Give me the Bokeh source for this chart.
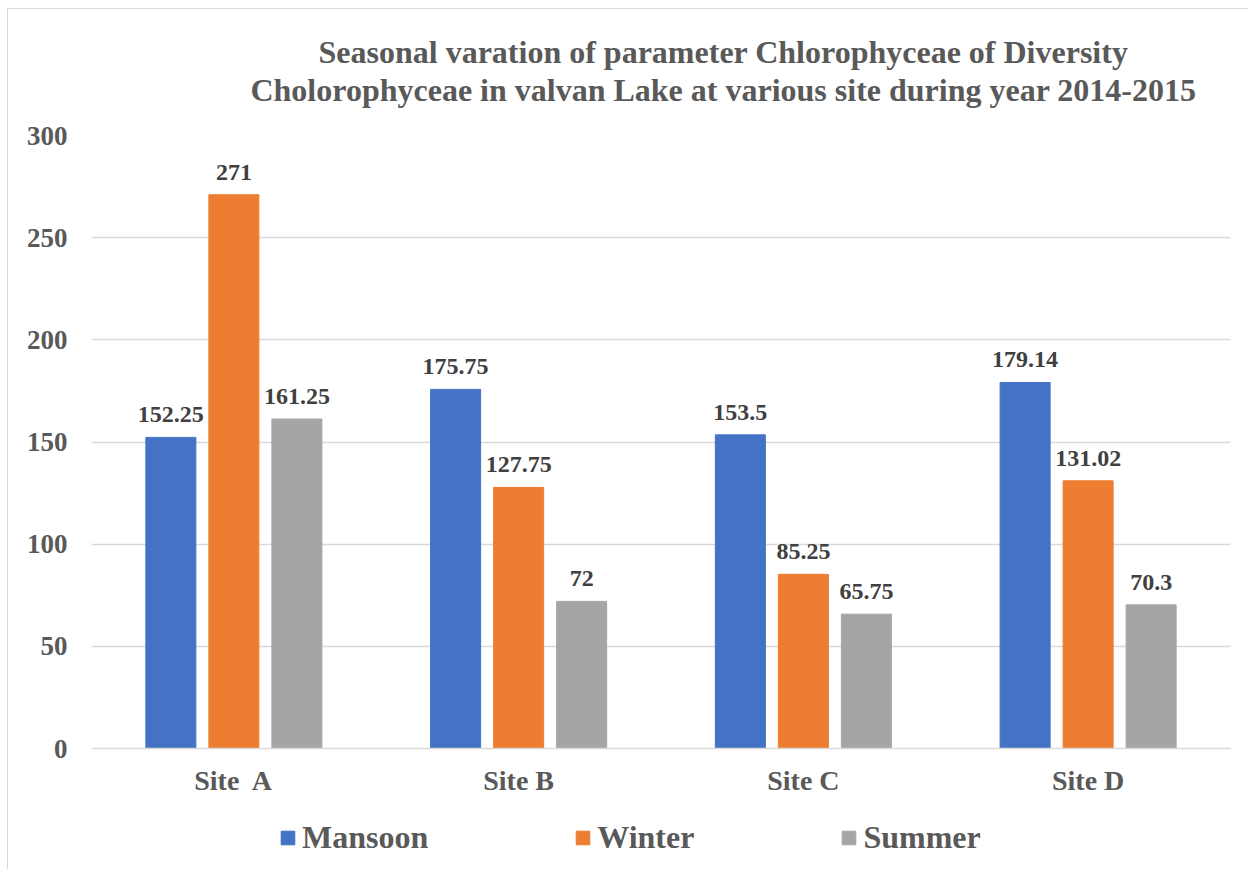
from bokeh.plotting import figure
from bokeh.layouts import column
from bokeh.models import (ColumnDataSource, FactorRange, Range1d, LabelSet, FixedTicker,
                          Legend, LegendItem, Label)
from bokeh.transform import dodge
from bokeh.embed import file_html
from bokeh.resources import INLINE

sites = ["Site\u00a0 A", "Site B", "Site C", "Site D"]
mansoon = [152.25, 175.75, 153.5, 179.14]
winter = [271, 127.75, 85.25, 131.02]
summer = [161.25, 72, 65.75, 70.3]
mansoon_lbl = ["152.25", "175.75", "153.5", "179.14"]
winter_lbl = ["271", "127.75", "85.25", "131.02"]
summer_lbl = ["161.25", "72", "65.75", "70.3"]
y_ticks = [0, 50, 100, 150, 200, 250, 300]
series_names = ["Mansoon", "Winter", "Summer"]
series_colors = ["#4472C4", "#ED7D31", "#A5A5A5"]
title_1 = "Seasonal varation of parameter Chlorophyceae of Diversity"
title_2 = "Cholorophyceae in valvan Lake at various site during year 2014-2015"

FONT = "Liberation Serif"
GRAY_TXT = "#595959"
W = 1240
FRAME_W = 1240 - 83 - 18

src = ColumnDataSource(dict(site=sites, mansoon=mansoon, winter=winter, summer=summer,
                            ml=mansoon_lbl, wl=winter_lbl, sl=summer_lbl))

# ---- header strip with the two-line title ----
HEAD_H = 110
head = figure(width=W, height=HEAD_H, output_backend="svg", toolbar_location=None,
              title=None, x_range=Range1d(0, FRAME_W), y_range=Range1d(0, HEAD_H),
              x_axis_type=None, y_axis_type=None,
              min_border_left=0, min_border_right=0, min_border_top=0, min_border_bottom=0)
head.xgrid.grid_line_color = None
head.ygrid.grid_line_color = None
head.outline_line_color = None
for txt, ypos in ((title_1, 68), (title_2, 30)):
    head.add_layout(Label(x=632, y=ypos, text=txt, text_align="center",
                          text_baseline="alphabetic", text_font=FONT,
                          text_font_style="bold", text_font_size="32px",
                          text_color=GRAY_TXT))

# ---- main chart ----
p = figure(x_range=FactorRange(*sites, range_padding=0), y_range=Range1d(0, 300),
           width=W, height=681, output_backend="svg", toolbar_location=None,
           min_border_left=83, min_border_right=18, min_border_top=16, min_border_bottom=52)

off = 0.2213
bw = 0.1756
cols = [("mansoon", "ml", -off), ("winter", "wl", 0.0), ("summer", "sl", off)]
for (col, lcol, o), color in zip(cols, series_colors):
    p.vbar(x=dodge("site", o, range=p.x_range), top=col, width=bw, source=src,
           fill_color=color, line_color=color)
    p.add_layout(LabelSet(x=dodge("site", o, range=p.x_range), y=col, text=lcol, source=src,
                          text_align="center", text_baseline="alphabetic", y_offset=15,
                          text_font=FONT, text_font_style="bold", text_font_size="24px",
                          text_color="#404040"))

p.yaxis.ticker = FixedTicker(ticks=y_ticks)
p.yaxis.axis_line_color = None
p.yaxis.major_tick_line_color = None
p.yaxis.minor_tick_line_color = None
p.yaxis.major_label_standoff = 18
p.yaxis.major_label_text_font = FONT
p.yaxis.major_label_text_font_style = "bold"
p.yaxis.major_label_text_font_size = "27px"
p.yaxis.major_label_text_color = GRAY_TXT

p.xaxis.axis_line_color = "#D9D9D9"
p.xaxis.axis_line_width = 1.5
p.xaxis.major_tick_line_color = None
p.xaxis.minor_tick_line_color = None
p.xaxis.major_label_standoff = 10
p.xaxis.major_label_text_font = FONT
p.xaxis.major_label_text_font_style = "bold"
p.xaxis.major_label_text_font_size = "28px"
p.xaxis.major_label_text_color = GRAY_TXT

p.xgrid.grid_line_color = None
p.ygrid.grid_line_color = "#D9D9D9"
p.ygrid.grid_line_width = 1.5
p.outline_line_color = None

# ---- legend strip below the chart ----
p2 = figure(width=W, height=69, output_backend="svg", toolbar_location=None,
            x_range=p.x_range, y_range=Range1d(1000, 1001),
            x_axis_type=None, y_axis_type=None,
            min_border_left=0, min_border_right=0, min_border_top=0, min_border_bottom=0)
p2.xgrid.grid_line_color = None
p2.ygrid.grid_line_color = None
p2.outline_line_color = None
items = []
for (col, lcol, o), name, color in zip(cols, series_names, series_colors):
    r = p2.vbar(x=dodge("site", o, range=p.x_range), top=col, width=bw, source=src,
                fill_color=color, line_color=color)
    items.append(LegendItem(label=name, renderers=[r], index=0))
legend = Legend(items=items, orientation="horizontal", location=(188, 13),
                glyph_width=17, glyph_height=17, label_standoff=6, spacing=146,
                padding=0, margin=0, border_line_color=None, background_fill_alpha=0,
                label_text_font=FONT, label_text_font_style="bold",
                label_text_font_size="32px", label_text_color=GRAY_TXT)
p2.add_layout(legend, "center")

layout = column(head, p, p2, spacing=0)
layout.styles = {"margin-left": "7px", "margin-top": "8px",
                 "border-top": "1px solid #d9d9d9", "border-left": "1px solid #d9d9d9"}

open("out.html", "w").write(file_html(layout, INLINE))
